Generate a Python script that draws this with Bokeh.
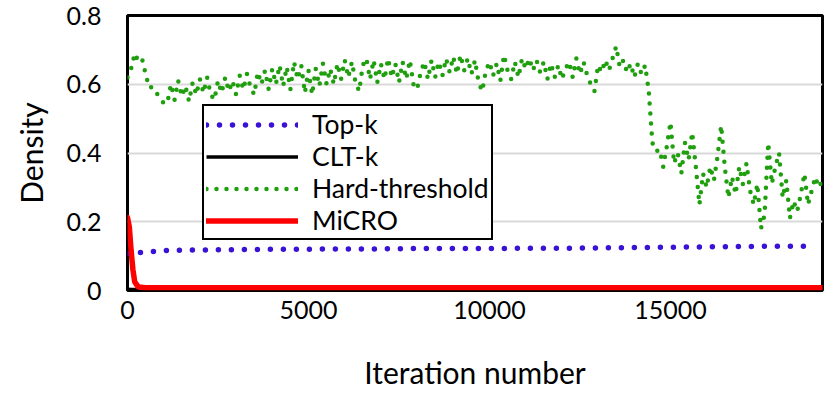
from bokeh.plotting import figure
from bokeh.models import Range1d, FixedTicker, Legend, LegendItem
from bokeh.embed import file_html
from bokeh.resources import INLINE

# ---------------- data ----------------
topk_x = [0, 1000, 2000, 3000, 4000, 5000, 6000, 7000, 8000, 9000,
          10000, 11000, 12000, 13000, 14000, 15000, 16000, 17000, 18000, 19000]
topk_y = [0.108, 0.116, 0.118, 0.119, 0.120, 0.120, 0.121, 0.121, 0.122, 0.122,
          0.122, 0.123, 0.123, 0.124, 0.125, 0.126, 0.127, 0.128, 0.129, 0.129]

cltk_x = [0, 100, 200, 400, 5000, 10000, 15000, 19200]
cltk_y = [0.004, 0.003, 0.003, 0.003, 0.003, 0.003, 0.003, 0.003]

micro_x = [0, 50, 100, 150, 200, 300, 500, 1000, 5000, 10000, 15000, 19200]
micro_y = [0.212, 0.185, 0.116, 0.06, 0.025, 0.010, 0.008, 0.008, 0.008, 0.008, 0.008, 0.008]

hard_step = 100
hard_y = [
    # 0 - 1000
    0.62, 0.645, 0.69, 0.668, 0.675, 0.63, 0.59, 0.592, 0.575, 0.56, 0.545,
    # 1100 - 2900
    0.545, 0.60, 0.555, 0.61, 0.565, 0.595, 0.55, 0.605, 0.57, 0.615,
    0.575, 0.62, 0.57, 0.555, 0.61, 0.575, 0.62, 0.58, 0.61,
    # 3000 - 3700
    0.57, 0.625, 0.585, 0.63, 0.59, 0.57, 0.635, 0.60,
    # 3800 - 4700
    0.64, 0.585, 0.645, 0.60, 0.655, 0.595, 0.65, 0.585, 0.665, 0.615,
    # 4800 - 5600
    0.655, 0.575, 0.64, 0.57, 0.645, 0.595, 0.66, 0.60, 0.645,
    # 5700 - 7000
    0.60, 0.66, 0.615, 0.67, 0.62, 0.665, 0.605, 0.58, 0.655, 0.675, 0.615, 0.67, 0.605, 0.66,
    # 7100 - 8600
    0.615, 0.675, 0.62, 0.66, 0.605, 0.665, 0.615, 0.67, 0.60, 0.585, 0.635, 0.665, 0.615, 0.67, 0.62, 0.665,
    # 8700 - 9500
    0.625, 0.675, 0.635, 0.68, 0.63, 0.685, 0.64, 0.675, 0.63,
    # 9600 - 10000
    0.67, 0.605, 0.58, 0.64, 0.665,
    # 10100 - 10900
    0.625, 0.66, 0.61, 0.685, 0.64, 0.615, 0.665, 0.62, 0.675,
    # 11000 - 11400
    0.645, 0.675, 0.64, 0.67, 0.635,
    # 11500 - 12100
    0.665, 0.615, 0.66, 0.62, 0.655, 0.615, 0.645,
    # 12200 - 12700
    0.665, 0.62, 0.675, 0.63, 0.665, 0.625,
    # 12800 - 12900
    0.60, 0.58,
    # 13000 - 13500
    0.655, 0.635, 0.67, 0.64, 0.675, 0.71,
    # 13600 - 14300
    0.65, 0.67, 0.635, 0.66, 0.62, 0.66, 0.63, 0.655,
    # 14400 - 14700
    0.58, 0.43, 0.405, 0.41,
    # 14800 - 15700
    0.36, 0.42, 0.49, 0.37, 0.40, 0.34, 0.43, 0.38, 0.46, 0.36,
    # 15800 - 16200
    0.25, 0.34, 0.30, 0.36, 0.32,
    # 16300 - 16600
    0.39, 0.48, 0.36, 0.27,
    # 16700 - 16900
    0.33, 0.28, 0.36,
    # 17000 - 17200
    0.31, 0.37, 0.29,
    # 17300 - 17600
    0.25, 0.31, 0.18, 0.22,
    # 17700 - 18200
    0.43, 0.31, 0.36, 0.40, 0.27, 0.32,
    # 18300 - 19200
    0.21, 0.26, 0.23, 0.28, 0.34, 0.25, 0.29, 0.33, 0.30, 0.32,
]
hard_x = [i * hard_step for i in range(len(hard_y))]

x_ticks = [0, 5000, 10000, 15000]
y_ticks = [0, 0.2, 0.4, 0.6, 0.8]
y_tick_labels = {0: "0", 0.2: "0.2", 0.4: "0.4", 0.6: "0.6", 0.8: "0.8"}

FONT = "Lato"

# ---------------- figure ----------------
p = figure(width=825, height=392, output_backend="svg", toolbar_location=None,
           x_range=Range1d(0, 19200), y_range=Range1d(0, 0.8),
           min_border_left=127, min_border_right=3, min_border_top=15, min_border_bottom=102)
p.background_fill_color = "white"
p.border_fill_color = "white"
p.outline_line_color = "black"
p.outline_line_width = 3

p.xgrid.grid_line_color = None
p.ygrid.grid_line_color = "#d9d9d9"
p.ygrid.grid_line_width = 2
p.ygrid.ticker = FixedTicker(ticks=y_ticks)

p.xaxis.ticker = FixedTicker(ticks=x_ticks)
p.yaxis.ticker = FixedTicker(ticks=y_ticks)
p.yaxis.major_label_overrides = y_tick_labels

for ax in (p.xaxis[0], p.yaxis[0]):
    ax.axis_line_color = None
    ax.major_tick_line_color = None
    ax.minor_tick_line_color = None
    ax.major_label_text_font = FONT
    ax.major_label_text_font_size = "25px"
    ax.major_label_text_color = "black"
    ax.axis_label_text_font = FONT
    ax.axis_label_text_font_style = "normal"
    ax.axis_label_text_color = "black"
    ax.axis_label_text_font_size = "30px"

p.xaxis.major_label_standoff = 4
p.yaxis.major_label_standoff = 20
p.xaxis.axis_label = "Iteration number"
p.yaxis.axis_label = "Density"
p.xaxis.axis_label_standoff = 32
p.yaxis.axis_label_standoff = 15

r_topk = p.line(topk_x, topk_y, line_color="#3a12d6", line_width=5.5,
                line_dash="0 13", line_cap="round")
r_clt = p.line(cltk_x, cltk_y, line_color="black", line_width=3.5)
r_hard = p.line(hard_x, hard_y, line_color="#1f9e0e", line_width=4.5,
                line_dash="0 10", line_cap="round")
r_micro = p.line(micro_x, micro_y, line_color="#ff0000", line_width=5.5,
                 line_cap="round")

legend = Legend(items=[
    LegendItem(label="Top-k", renderers=[r_topk]),
    LegendItem(label="CLT-k", renderers=[r_clt]),
    LegendItem(label="Hard-threshold", renderers=[r_hard]),
    LegendItem(label="MiCRO", renderers=[r_micro]),
], location=(75, 50))
legend.label_text_font = FONT
legend.label_text_font_size = "26.5px"
legend.label_text_color = "black"
legend.glyph_width = 92
legend.glyph_height = 31
legend.label_height = 31
legend.label_standoff = 14
legend.spacing = 0
legend.padding = 2
legend.margin = 0
legend.border_line_color = "black"
legend.border_line_alpha = 1
legend.border_line_width = 2.5
legend.background_fill_color = "white"
legend.background_fill_alpha = 1
p.add_layout(legend, "center")

open("out.html", "w").write(file_html(p, INLINE))
